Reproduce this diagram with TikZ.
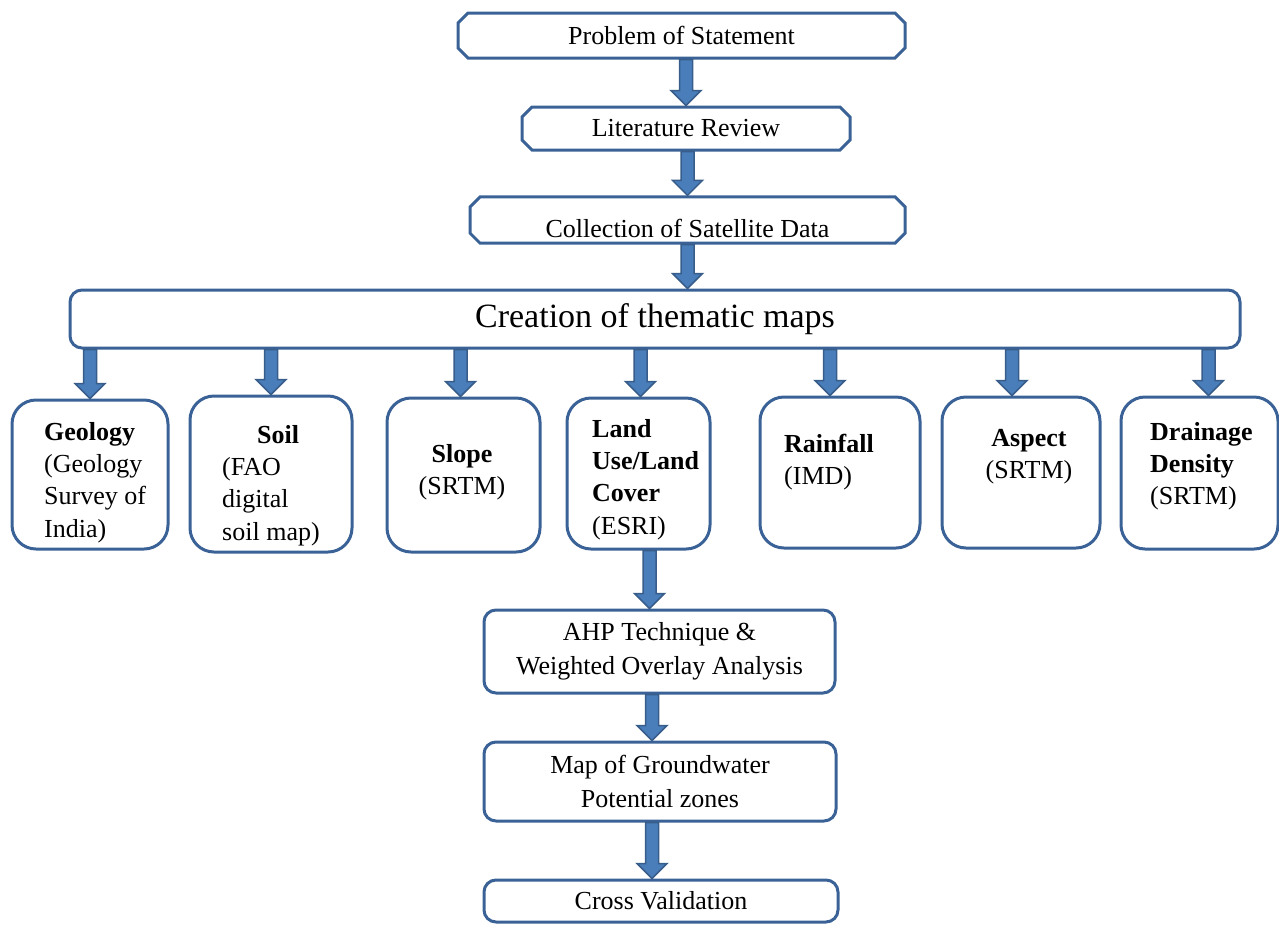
\documentclass[tikz,border=0pt]{standalone}
\usepackage{fontspec}
\setmainfont{Liberation Serif}
\usetikzlibrary{calc,shapes.misc}
\definecolor{boxblue}{RGB}{58,98,150}
\definecolor{arrowfill}{RGB}{74,126,187}
\definecolor{arrowedge}{RGB}{56,93,138}
\tikzset{
  stepbox/.style={chamfered rectangle, chamfered rectangle xsep=5pt,
    chamfered rectangle ysep=5pt, draw=boxblue, line width=3pt, inner sep=0pt,
    font=\fontsize{26}{32}\selectfont},
  roundbox/.style={rectangle, rounded corners=12pt, draw=boxblue, line width=3pt,
    inner sep=0pt, align=center, font=\fontsize{26}{34}\selectfont},
  themebox/.style={rectangle, rounded corners=24pt, draw=boxblue, line width=3pt, inner sep=0pt},
  themetext/.style={inner sep=0pt, align=left, font=\fontsize{26}{32.3}\selectfont},
  fatarrow/.style={fill=arrowfill, draw=arrowedge, line width=1.5pt,
    to path={let \p1=(\tikztostart), \p2=(\tikztotarget) in
      (\x2-6.5pt,\y1) -- (\x2-6.5pt,\y2+15pt) -- (\x2-15pt,\y2+15pt) -- (\x2,\y2)
      -- (\x2+15pt,\y2+15pt) -- (\x2+6.5pt,\y2+15pt) -- (\x2+6.5pt,\y1) -- cycle}}
}
\begin{document}
\begin{tikzpicture}[x=1pt, y=-1pt]
\useasboundingbox (0,0) rectangle (1279,924);

% upper chain
\node[stepbox, minimum width=447pt, minimum height=45pt] (prob) at (681.5,35.5) {Problem of Statement};
\node[stepbox, minimum width=328pt, minimum height=43pt] (lit) at (686,128.5) {Literature Review};
\node[stepbox, minimum width=435pt, minimum height=46pt, text height=36pt] (coll) at (687.5,220) {Collection of Satellite Data};
\node[roundbox, minimum width=1170pt, minimum height=58pt, font=\fontsize{34}{40}\selectfont] (creat) at (655,319) {Creation of thematic maps};

% thematic layers
\node[themebox, minimum width=156pt, minimum height=149pt] (geo) at (90,474.5) {};
\node[themebox, minimum width=162pt, minimum height=156pt] (soil) at (271,474) {};
\node[themebox, minimum width=153pt, minimum height=154pt] (slope) at (463.5,475) {};
\node[themebox, minimum width=143pt, minimum height=151pt] (lulc) at (638.5,473.5) {};
\node[themebox, minimum width=160pt, minimum height=151pt] (rain) at (840,472.5) {};
\node[themebox, minimum width=158pt, minimum height=151pt] (asp) at (1021,472.5) {};
\node[themebox, minimum width=157pt, minimum height=152pt] (drain) at (1199.5,473) {};

\node[themetext, anchor=north west] (geotext) at (44,422) {\textbf{Geology}\\(Geology\\Survey of\\India)};
\node[themetext, anchor=north west] (soiltext) at (222,425) {\hspace*{35pt}\textbf{Soil}\\(FAO\\digital\\soil map)};
\node[themetext, align=center] (slopetext) at (462,472) {\textbf{Slope}\\(SRTM)};
\node[themetext, anchor=north west] (lulctext) at (592,419) {\textbf{Land}\\\textbf{Use/Land}\\\textbf{Cover}\\(ESRI)};
\node[themetext, anchor=north west] (raintext) at (784,434) {\textbf{Rainfall}\\(IMD)};
\node[themetext, align=center] (asptext) at (1029,457) {\textbf{Aspect}\\(SRTM)};
\node[themetext, anchor=north west] (draintext) at (1150,422) {\textbf{Drainage}\\\textbf{Density}\\(SRTM)};

% lower chain
\node[roundbox, minimum width=351pt, minimum height=83pt] (ahp) at (659.5,651.5) {AHP Technique \&\\Weighted Overlay Analysis};
\node[roundbox, minimum width=352pt, minimum height=79pt] (gwmap) at (660,781.5) {Map of Groundwater\\Potential zones};
\node[roundbox, minimum width=354pt, minimum height=42pt] (cross) at (661,901) {Cross Validation};

% arrows
\draw[fatarrow] (prob.south) to (lit.north);
\draw[fatarrow] (lit.south) to (coll.north);
\draw[fatarrow] (coll.south) to (creat.north -| coll.south);
\foreach \t/\s in {geo/0,soil/0,slope/-3,lulc/2,rain/-10,asp/-9,drain/9}
  \draw[fatarrow] (creat.south -| \t.north) to ([xshift=\s pt]\t.north);
\draw[fatarrow] (lulc.south) to ([xshift=-10pt]ahp.north);
\draw[fatarrow] (ahp.south) to ([xshift=-8pt]gwmap.north);
\draw[fatarrow] (gwmap.south) to ([xshift=-9pt]cross.north);
\end{tikzpicture}
\end{document}
